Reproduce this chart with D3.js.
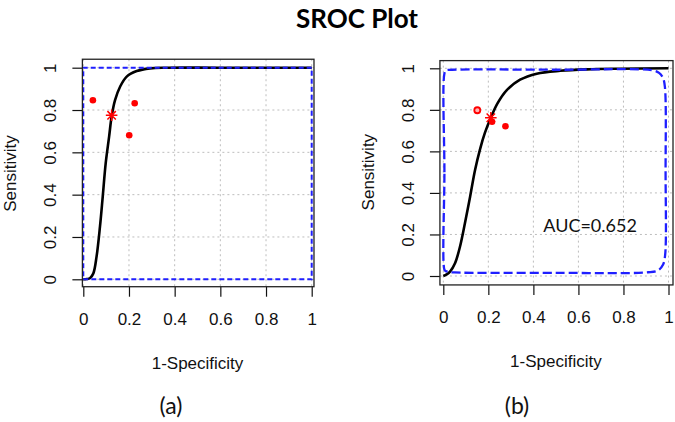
<!DOCTYPE html>
<html><head><meta charset="utf-8">
<script src="https://cdn.jsdelivr.net/npm/d3@7"></script>
<style>html,body{margin:0;padding:0;background:#fff;}svg{display:block;}</style>
</head><body>
<svg id="chart" width="675" height="422"></svg>
<script>
// ---------- data ----------
const titleText = "SROC Plot";
const xLabelText = "1-Specificity";
const yLabelText = "Sensitivity";
const tickValues = [0, 0.2, 0.4, 0.6, 0.8, 1];
const tickLabels = ["0", "0.2", "0.4", "0.6", "0.8", "1"];
const panelLabels = ["(a)", "(b)"];

// panel (a)
const curveA = [[0,0],[0.015,0.001],[0.029,0.005],[0.044,0.028],[0.058,0.107],[0.073,0.249],[0.085,0.39],[0.098,0.548],
  [0.113,0.674],[0.124,0.769],[0.139,0.847],[0.161,0.91],[0.19,0.958],[0.234,0.984],[0.292,0.997],[0.365,1.0],[0.6,1.0],[1,1.0]];
const studiesA = [[0.042,0.846],[0.225,0.832],[0.201,0.681]];
const summaryA = [0.124,0.775];
const regionA = [[0,0],[1,0],[1,1],[0,1]];

// panel (b)
const curveB = [[0,0],[0.015,0.008],[0.03,0.021],[0.052,0.061],[0.074,0.141],[0.096,0.254],[0.119,0.382],[0.141,0.51],
  [0.163,0.61],[0.185,0.69],[0.211,0.762],[0.24,0.83],[0.282,0.895],[0.341,0.945],[0.415,0.974],[0.519,0.988],
  [0.637,0.995],[0.785,0.998],[1,1.0]];
const studiesB = [[0.2165,0.743],[0.276,0.721]];
const studiesBOpen = [[0.151,0.798]];
const summaryB = [0.211,0.762];
const regionB = [[0.005,0.03],[0.005,0.5],[0.005,0.975],[0.012,0.99],[0.04,0.993],[0.5,0.993],[0.93,0.99],[0.958,0.978],
  [0.975,0.955],[0.984,0.91],[0.987,0.5],[0.985,0.1],[0.976,0.055],[0.955,0.028],[0.91,0.018],[0.5,0.015],
  [0.05,0.017],[0.022,0.02],[0.01,0.024]];
const aucText = "AUC=0.652";
const aucPos = [0.444, 0.213];

// ---------- layout ----------
const svg = d3.select("#chart");
const panels = [
  {x0:83.3, x1:311.7, y0:279.3, y1:67.7, box:[-0.004,1.01,-0.035,1.04], curve:curveA, region:regionA, regionClosedLinear:true,
   studies:studiesA, open:[], summary:summaryA, label:panelLabels[0], labelX:171},
  {x0:443.3, x1:668.5, y0:276, y1:68.3, box:[-0.015,1.02,-0.043,1.037], curve:curveB, region:regionB, regionClosedLinear:false,
   studies:studiesB, open:studiesBOpen, summary:summaryB, label:panelLabels[1], labelX:517, auc:true}
];

svg.append("text").attr("x", 357).attr("y", 28).attr("text-anchor","middle")
  .attr("font-family","Lato, 'Open Sans', sans-serif").attr("font-weight",700).attr("font-size",26)
  .attr("fill","#000").text(titleText);

panels.forEach(p => {
  const x = d3.scaleLinear().domain([0,1]).range([p.x0,p.x1]);
  const y = d3.scaleLinear().domain([0,1]).range([p.y0,p.y1]);
  const g = svg.append("g");
  const bx0 = x(p.box[0]), bx1 = x(p.box[1]), by0 = y(p.box[2]), by1 = y(p.box[3]);

  // grid
  g.selectAll(".gx").data(tickValues).join("line")
    .attr("x1", d=>x(d)).attr("x2", d=>x(d)).attr("y1", by1).attr("y2", by0)
    .attr("stroke","#bdbdbd").attr("stroke-width",1).attr("stroke-dasharray","2,3");
  g.selectAll(".gy").data(tickValues).join("line")
    .attr("y1", d=>y(d)).attr("y2", d=>y(d)).attr("x1", bx0).attr("x2", bx1)
    .attr("stroke","#bdbdbd").attr("stroke-width",1).attr("stroke-dasharray","2,3");

  // axes (ticks only; box drawn separately)
  const xAxis = d3.axisBottom(x).tickValues(tickValues).tickFormat((d,i)=>tickLabels[i]).tickSize(10).tickSizeOuter(0);
  const ax = g.append("g").attr("transform",`translate(0,${by0})`).call(xAxis);
  ax.select(".domain").remove();
  ax.selectAll("line").attr("stroke","#111").attr("stroke-width",1.2);
  ax.selectAll("text").attr("font-family","'Liberation Sans', Arial, sans-serif").attr("font-size",17)
    .attr("fill","#111").attr("dy",null).attr("y",38);

  const yAxis = d3.axisLeft(y).tickValues(tickValues).tickFormat((d,i)=>tickLabels[i]).tickSize(10).tickSizeOuter(0);
  const ay = g.append("g").attr("transform",`translate(${bx0},0)`).call(yAxis);
  ay.select(".domain").remove();
  ay.selectAll("line").attr("stroke","#111").attr("stroke-width",1.2);
  ay.selectAll("text").attr("font-family","'Liberation Sans', Arial, sans-serif").attr("font-size",17)
    .attr("fill","#111").attr("text-anchor","middle").attr("dy",null).attr("x",0).attr("y",0)
    .attr("transform","translate(-26,0) rotate(-90)");

  // axis titles
  g.append("text").attr("x",(x(0)+x(1))/2).attr("y",by0+82).attr("text-anchor","middle")
    .attr("font-family","'Liberation Sans', Arial, sans-serif").attr("font-size",17).attr("fill","#111").text(xLabelText);
  g.append("text").attr("transform",`translate(${bx0-66},${(y(0)+y(1))/2}) rotate(-90)`).attr("text-anchor","middle")
    .attr("font-family","'Liberation Sans', Arial, sans-serif").attr("font-size",17).attr("fill","#111").text(yLabelText);

  // panel label
  g.append("text").attr("x",p.labelX).attr("y",414).attr("text-anchor","middle")
    .attr("font-family","Lato, 'Open Sans', sans-serif").attr("font-size",23).attr("fill","#111").text(p.label);

  // SROC curve
  const line = d3.line().x(d=>x(d[0])).y(d=>y(d[1])).curve(d3.curveCatmullRom.alpha(0.5));
  g.append("path").datum(p.curve).attr("d",line).attr("fill","none").attr("stroke","#000").attr("stroke-width",2.6);

  // confidence region
  const rline = d3.line().x(d=>x(d[0])).y(d=>y(d[1]))
    .curve(p.regionClosedLinear ? d3.curveLinearClosed : d3.curveCatmullRomClosed.alpha(0.5));
  g.append("path").datum(p.region).attr("d",rline).attr("fill","none").attr("stroke","#1f1fff")
    .attr("stroke-width", p.regionClosedLinear ? 2 : 2.3)
    .attr("stroke-dasharray", p.regionClosedLinear ? "5,3" : "9,4");

  // studies
  g.selectAll(".st").data(p.studies).join("circle")
    .attr("cx",d=>x(d[0])).attr("cy",d=>y(d[1])).attr("r",3.3).attr("fill","#ff0000");
  g.selectAll(".so").data(p.open).join("circle")
    .attr("cx",d=>x(d[0])).attr("cy",d=>y(d[1])).attr("r",3).attr("fill","#ffb3b3")
    .attr("stroke","#ff0000").attr("stroke-width",1.8);

  // summary point (asterisk)
  const sx = x(p.summary[0]), sy = y(p.summary[1]);
  const pa = d3.path(); const a = 5.8, b = 4.2;
  pa.moveTo(sx-a,sy); pa.lineTo(sx+a,sy);
  pa.moveTo(sx,sy-a); pa.lineTo(sx,sy+a);
  pa.moveTo(sx-b,sy-b); pa.lineTo(sx+b,sy+b);
  pa.moveTo(sx-b,sy+b); pa.lineTo(sx+b,sy-b);
  g.append("path").attr("d",pa.toString()).attr("stroke","#ff0000").attr("stroke-width",1.5).attr("fill","none");

  if (p.auc) {
    g.append("text").attr("x",x(aucPos[0])).attr("y",y(aucPos[1]))
      .attr("font-family","Lato, 'Open Sans', sans-serif").attr("font-size",18).attr("fill","#111").text(aucText);
  }

  // box
  g.append("rect").attr("x",bx0).attr("y",by1).attr("width",bx1-bx0).attr("height",by0-by1)
    .attr("fill","none").attr("stroke","#222").attr("stroke-width",1.3);
});
</script>
</body></html>
